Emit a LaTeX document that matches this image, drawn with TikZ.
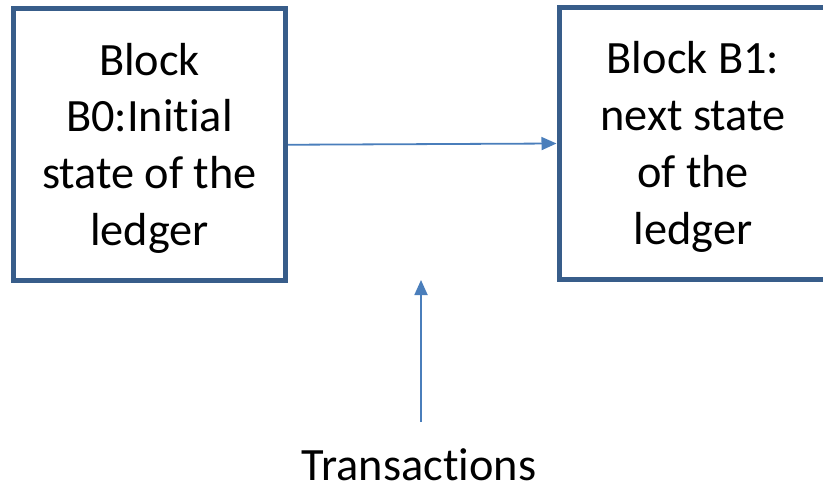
\documentclass[tikz,border=0pt]{standalone}
\usepackage{fontspec}
\setmainfont{Carlito}[Ligatures=NoCommon]
\usetikzlibrary{arrows.meta}
\definecolor{boxline}{HTML}{385D8A}
\definecolor{linkline}{HTML}{4A7EBB}
\tikzset{
  blockbox/.style={draw=boxline, line width=5bp, minimum width=272bp,
    minimum height=272bp, inner sep=0pt},
  blocktext/.style={align=center, inner sep=0pt,
    font=\fontsize{46.5}{57}\selectfont},
  link/.style={draw=linkline, line width=1.8bp,
    -{Triangle[length=15bp,width=13bp]}},
  caption/.style={font=\fontsize{46.5}{57}\selectfont, inner sep=0pt}
}
\begin{document}
\begin{tikzpicture}[x=1bp, y=-1bp]
  \useasboundingbox (0,0) rectangle (823,486);
  \clip (0,0) rectangle (823,486);
  % the two ledger blocks
  \node[blockbox] (b0) at (149.5,144.75) {};
  \node[blocktext, yshift=-3.5bp] (b0text) at (b0.center)
    {Block\\B0:Initial\\state of the\\ledger};
  \node[blockbox] (b1) at (695,143.5) {};
  \node[blocktext, yshift=-3.5bp, xshift=-2bp] (b1text) at (b1.center)
    {Block B1:\\next state\\of the\\ledger};
  % link from the first block to the next one
  \draw[link] (b0.east) -- (b1.west);
  % transactions feeding the new block
  \node[caption, anchor=base] (tx) at (419,480) {Transactions};
  \coordinate (txfoot) at (421,422);
  \coordinate (txhead) at (421,280);
  \draw[link] (txfoot) -- (txhead);
\end{tikzpicture}
\end{document}
